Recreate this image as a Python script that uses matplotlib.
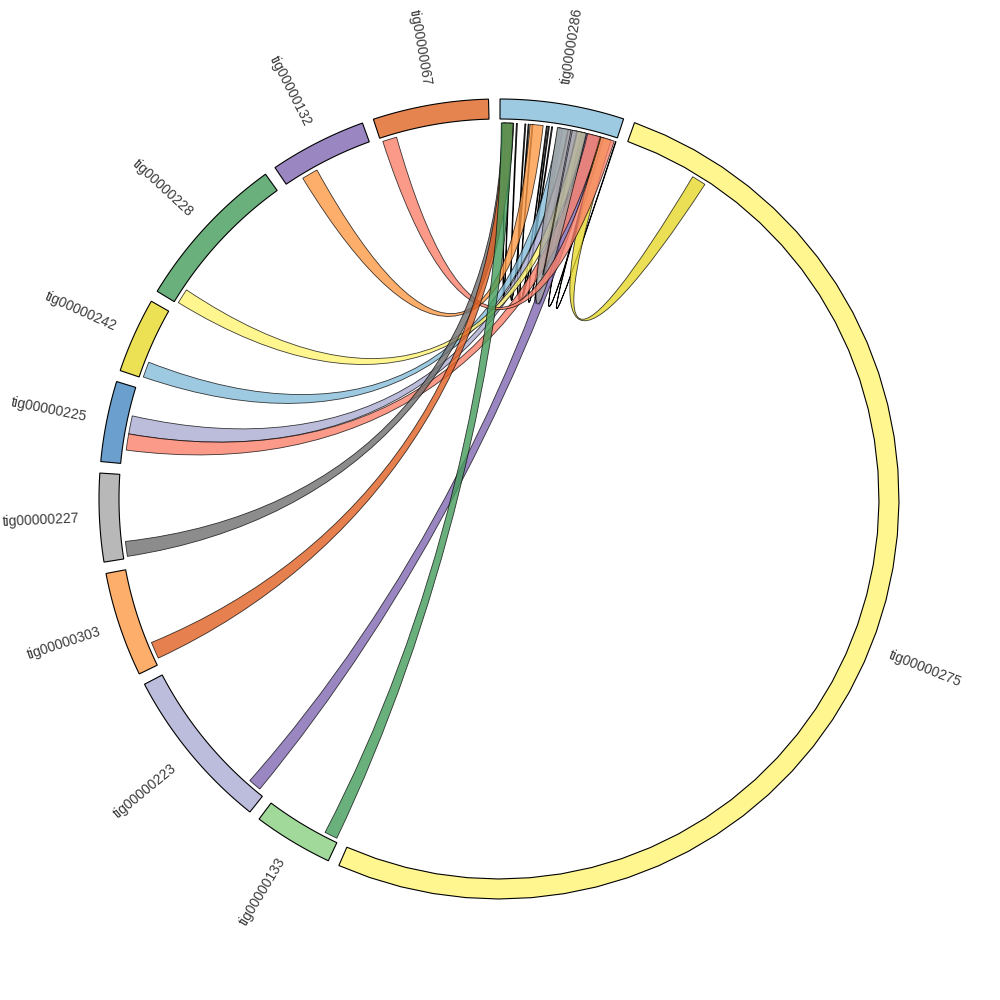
import numpy as np
import matplotlib
matplotlib.use('Agg')
import matplotlib.pyplot as plt
from matplotlib.path import Path
from matplotlib.patches import PathPatch, Polygon
from matplotlib.colors import to_rgb

# contigs, clockwise from 12 o'clock
contigs = ['tig00000286', 'tig00000275', 'tig00000133', 'tig00000223',
           'tig00000303', 'tig00000227', 'tig00000225', 'tig00000242',
           'tig00000228', 'tig00000132', 'tig00000067']
contig_len_kb = [180, 1838, 116, 239, 152, 128, 117, 109, 230, 141, 168]
contig_colors = ['#9ecae1', '#fff68f', '#a1d99b', '#bcbddc', '#fdae6b',
                 '#b8b8b8', '#6b9fcd', '#ece055', '#6ab07c', '#9a87c2',
                 '#e6844f']

# links (positions in kb along each contig); color None = outline only
# drawn in list order
link_a = ['tig00000286'] * 21
link_a_start = [7, 25, 38, 49, 74, 91, 104, 129, 154,
                89, 105, 119, 153, 133, 135, 88, 156, 46, 3, 4, 2]
link_a_end = [8.5, 26.5, 39.5, 50.5, 75.5, 92.5, 105.5, 130.5, 155.5,
              104, 118, 132, 172, 154, 155, 109, 177, 66, 21, 20, 20]
link_b = ['tig00000286'] * 9 + ['tig00000242', 'tig00000225', 'tig00000228',
                                'tig00000275', 'tig00000223', 'tig00000225',
                                'tig00000286', 'tig00000067', 'tig00000132',
                                'tig00000227', 'tig00000303', 'tig00000133']
link_b_start = [15, 43, 79, 71, 95, 117, 125, 159, 179,
                2, 46, 2, 112, 10, 21, 111, 3, 26, 3, 9, 3]
link_b_end = [16.5, 44.5, 80.5, 72.5, 96.5, 118.5, 126.5, 160.5, 180,
              26, 74, 25, 134, 30, 46, 133, 25, 51, 26, 35, 23]
link_colors = [None] * 9 + ['#9ecae1', '#bcbddc', '#fff68f', '#ece055',
                            '#9a87c2', '#fb9a89', '#b8b8b8', '#fb9a89',
                            '#fdae6b', '#8c8c8c', '#e6804f', '#6ab07c']

GAP = 1.655
START = 0.15
R_OUT, R_IN, R_LINK, R_CTRL, R_LABEL = 400, 380, 376, 140, 420
ALPHA = 0.8

deg_per_kb = (360 - GAP * len(contigs)) / sum(contig_len_kb)
starts = {}
t = START
for name, ln in zip(contigs, contig_len_kb):
    starts[name] = t
    t += ln * deg_per_kb + GAP


def ang(name, pos):
    return starts[name] + pos * deg_per_kb


def pt(theta, r):
    a = np.radians(theta)
    return (r * np.sin(a), r * np.cos(a))


def arc(t1, t2, r, n=40):
    return [pt(x, r) for x in np.linspace(t1, t2, n)]


def fill_color(c):
    # colour that looks like c on white once drawn with ALPHA
    rgb = np.clip((np.array(to_rgb(c)) - (1 - ALPHA)) / ALPHA, 0, 1)
    return (*rgb, ALPHA)


def ribbon(a1, a2, b1, b2):
    verts = arc(a1, a2, R_LINK)
    codes = [Path.MOVETO] + [Path.LINETO] * (len(verts) - 1)
    verts += [pt(a2, R_CTRL), pt(b1, R_CTRL), pt(b1, R_LINK)]
    codes += [Path.CURVE4] * 3
    back = arc(b1, b2, R_LINK)[1:]
    verts += back
    codes += [Path.LINETO] * len(back)
    verts += [pt(b2, R_CTRL), pt(a1, R_CTRL), pt(a1, R_LINK)]
    codes += [Path.CURVE4] * 3
    verts.append(pt(a1, R_LINK))
    codes.append(Path.CLOSEPOLY)
    return Path(verts, codes)


fig = plt.figure(figsize=(10, 10), dpi=100)
ax = fig.add_axes([0, 0, 1, 1])
ax.set_xlim(-499, 501)
ax.set_ylim(-501, 499)
ax.set_aspect('equal')
ax.axis('off')

# ideogram ring + labels
for name, ln, col in zip(contigs, contig_len_kb, contig_colors):
    t1 = starts[name]
    t2 = t1 + ln * deg_per_kb
    poly = arc(t1, t2, R_OUT) + arc(t2, t1, R_IN)
    ax.add_patch(Polygon(poly, closed=True, facecolor=col,
                         edgecolor='black', linewidth=0.8, zorder=3))
    mid = (t1 + t2) / 2
    x, y = pt(mid, R_LABEL)
    if mid < 180:
        rot, ha = 90 - mid, 'left'
    else:
        rot, ha = 270 - mid, 'right'
    ax.text(x, y, name, rotation=rot, ha=ha, va='center',
            rotation_mode='anchor', fontsize=10, color='#3a3a3a',
            family='Liberation Sans')

# links
for i in range(len(link_a)):
    a1 = ang(link_a[i], link_a_start[i])
    a2 = ang(link_a[i], link_a_end[i])
    b1 = ang(link_b[i], link_b_start[i])
    b2 = ang(link_b[i], link_b_end[i])
    c = link_colors[i]
    if c is None:
        patch = PathPatch(ribbon(a1, a2, b1, b2), facecolor='none',
                          edgecolor='black', linewidth=0.6, zorder=2)
    else:
        patch = PathPatch(ribbon(a1, a2, b1, b2), facecolor=fill_color(c),
                          edgecolor=(0, 0, 0, 0.75), linewidth=0.6, zorder=2)
    ax.add_patch(patch)

fig.savefig('out.png', dpi=100)
